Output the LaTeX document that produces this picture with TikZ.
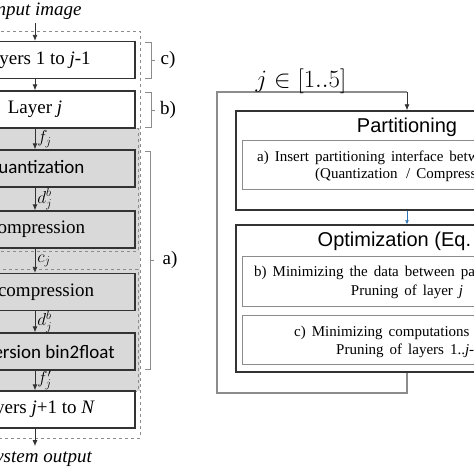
\documentclass[tikz,border=0pt]{standalone}
\usepackage{fontspec}
\setmainfont{Liberation Serif}
\newfontfamily\arialfont{Liberation Sans}
\newfontfamily\califont{Carlito}
\usetikzlibrary{arrows.meta,positioning}

\definecolor{boxline}{HTML}{333333}
\definecolor{bandgray}{HTML}{D9D9D9}
\definecolor{dashgray}{HTML}{8C8C8C}
\definecolor{flowblue}{HTML}{2E75B6}

\newcommand{\widespace}{\spaceskip=6pt\relax}

\tikzset{
  layerbox/.style={draw=boxline, line width=1.3pt, minimum width=200pt,
    minimum height=37pt, inner sep=0pt, font=\fontsize{19}{21}\selectfont},
  graybox/.style={layerbox, fill=bandgray},
  flow/.style={-{Latex[length=6pt,width=5pt]}, line width=0.8pt, draw=boxline},
  arrowlabel/.style={right, inner sep=2pt, font=\fontsize{17}{17}\selectfont},
  bracket/.style={draw=dashgray, line width=0.9pt},
  steplbl/.style={font=\fontsize{19}{21}\selectfont},
  stagebox/.style={draw=boxline, line width=1.4pt, minimum width=342pt, inner sep=0pt},
  taskbox/.style={draw=dashgray, line width=0.9pt, minimum width=330pt, inner sep=0pt},
  stagetitle/.style={anchor=base, inner sep=0pt, font=\arialfont\fontsize{20}{22}\selectfont},
  tasktext/.style={anchor=base west, inner sep=0pt, font=\fontsize{15}{17}\selectfont}
}

\begin{document}
\begin{tikzpicture}[x=1pt,y=-1pt]
\useasboundingbox (0,0) rectangle (474,474);
\clip (0,0) rectangle (474,474);

% shaded interface part
\fill [bandgray] (-80,128) rectangle (140,391);
\draw [dashgray, dashed, line width=0.9pt] (-80,31) rectangle (140,438);
\draw [dashgray, dashed, line width=0.9pt] (-80,128) rectangle (138,251);
\draw [dashgray, dashed, line width=0.9pt] (-80,269) rectangle (138,391);

% left column
\node [steplbl] (in) at (36,11) {\textit{Input image}};
\node [layerbox, fill=white] (L1) at (35,60) {Layers 1 to \textit{j}-1};
\node [layerbox, fill=white] (Lj) at (35,109.5) {Layer \textit{j}};
\node [graybox, font=\califont\fontsize{19}{21}\selectfont] (Q) at (35,168.5) {Quantization};
\node [graybox] (C) at (35,229.5) {Compression};
\node [graybox] (D) at (35,292) {Decompression};
\node [graybox, font=\califont\fontsize{19}{21}\selectfont] (B) at (35,351.5) {Conversion bin2float};
\node [layerbox, fill=white] (LN) at (35,409.5) {Layers \textit{j}+1 to \textit{N}};
\node [steplbl] (out) at (39,458) {\textit{System output}};

\draw [flow] (L1.north |- in.south) -- (L1);
\draw [flow] (L1) -- (Lj);
\draw [flow] (Lj) -- node [arrowlabel] {$f_j$} (Q);
\draw [flow] (Q) -- node [arrowlabel] {$d_j^b$} (C);
\draw [flow] (C) -- node [arrowlabel] {$c_j$} (D);
\draw [flow] (D) -- node [arrowlabel] {$d_j^b$} (B);
\draw [flow] (B) -- node [arrowlabel] {$f'_j$} (LN);
\draw [flow] (LN) -- (LN.south |- out.north);

% brackets
\draw [bracket] (145,42) -- (151,42) -- (151,78) -- (145,78) (151,60) -- (155,60);
\node [steplbl] (c) at (168,60) {c)};
\draw [bracket] (145,92) -- (151,92) -- (151,127) -- (145,127) (151,110) -- (155,110);
\node [steplbl] (b) at (168,110) {b)};
\draw [bracket] (145,151) -- (150,151) -- (150,369) -- (145,369) (150,260) -- (154,260);
\node [steplbl] (a) at (170,260) {a)};

% right flow
\node [stagebox, minimum height=99pt] (part) at (407,160.5) {};
\node [taskbox, minimum height=49pt] (ta) at (407,164.5) {};
\node [stagebox, minimum height=147pt] (opt) at (407,298.5) {};
\node [taskbox, minimum height=50pt] (tb) at (407,281) {};
\node [taskbox, minimum height=49pt] (tc) at (407,339.5) {};

\node [stagetitle] (pt) at (407,132.5) {Partitioning};
\node [stagetitle] (ot) at (407,246) {Optimization (Eq. 5)};
\node [tasktext] (a1) at (257,161) {\widespace a) Insert partitioning interface between layers};
\node [tasktext] (a2) at (315,178) {\widespace (Quantization \,/ Compression)};
\node [tasktext] (b1) at (254,276.5) {\widespace b) Minimizing the data between partitions};
\node [tasktext, anchor=base] (b2) at (407,295.5) {\widespace Pruning of layer \textit{j}};
\node [tasktext] (c1) at (294,336) {\widespace c) Minimizing computations};
\node [tasktext] (c2) at (336,354) {\widespace Pruning of layers 1..\textit{j}-1};

\draw [-{Latex[length=4pt,width=4pt]}, flowblue, line width=0.7pt] (part) -- (opt);

\coordinate (lb) at (217,393);
\coordinate (lt) at (217,92);
\draw [dashgray, line width=1.1pt] (opt.south) -- (opt.south |- lb) -- (lb) -- (lt)
  -- (part.north |- lt) coordinate (ltr);
\draw [flow] (ltr) -- (part.north);
\node [font=\fontsize{23}{25}\selectfont] (iter) at (301,81) {$j \in [1..5]$};
\end{tikzpicture}
\end{document}
